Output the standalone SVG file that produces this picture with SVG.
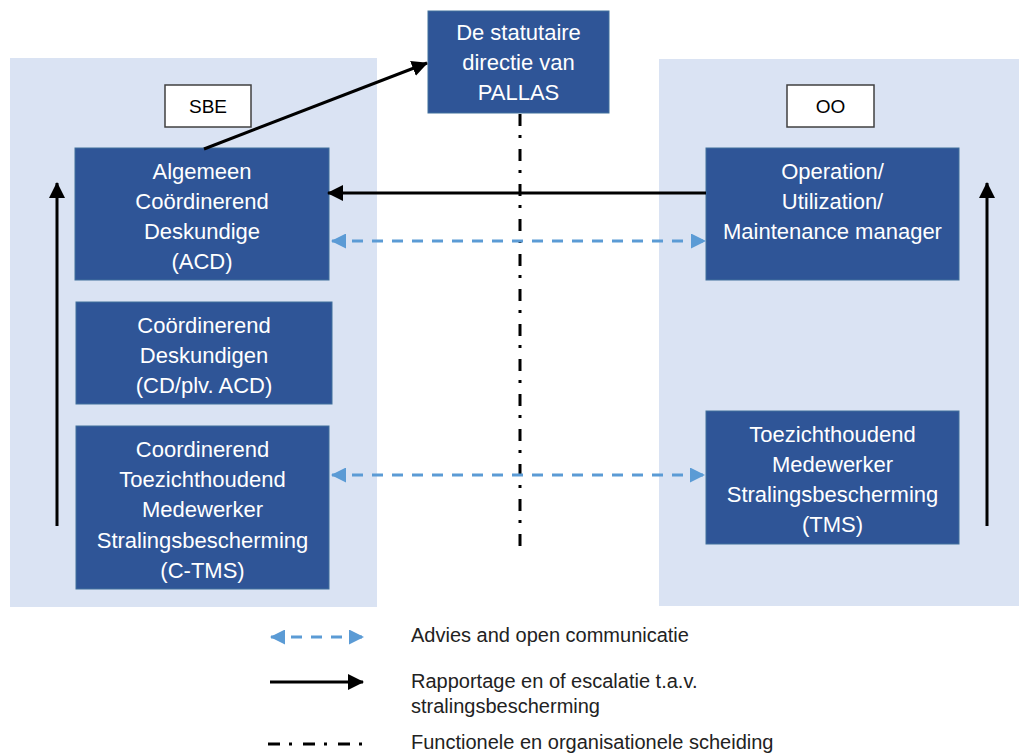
<svg xmlns="http://www.w3.org/2000/svg" width="1019" height="753" viewBox="0 0 1019 753">
<defs>
<style>
.panel{fill:#DAE3F3}
.node{fill:#2F5597;stroke:#41719C;stroke-width:1}
.lbl{fill:#fff;stroke:#404040;stroke-width:1.5}
.t{font-family:"Liberation Sans",Arial,sans-serif;font-size:22px;fill:#fff;text-anchor:middle}
.tb{font-family:"Liberation Sans",Arial,sans-serif;font-size:19px;fill:#000;text-anchor:middle}
.lg{font-family:"Liberation Sans",Arial,sans-serif;font-size:20px;fill:#222}
.solid{stroke:#000;stroke-width:3;fill:none}
.blue{stroke:#5B9BD5;stroke-width:3;fill:none;stroke-dasharray:11 9}
.sep{stroke:#000;stroke-width:3;fill:none;stroke-dasharray:12 9 3 11}
</style>
<marker id="ah" markerUnits="userSpaceOnUse" markerWidth="16" markerHeight="16" refX="15" refY="8" orient="auto">
<path d="M0,0 L16,8 L0,16 Z" fill="#000"/>
</marker>
<marker id="bh" markerUnits="userSpaceOnUse" markerWidth="15" markerHeight="15" refX="14" refY="7.5" orient="auto-start-reverse">
<path d="M0,0 L15,7.5 L0,15 Z" fill="#5B9BD5"/>
</marker>
</defs>
<rect width="1019" height="753" fill="#fff"/>
<g id="panel-sbe"><rect class="panel" x="10" y="58" width="367" height="549"/></g>
<g id="panel-oo"><rect class="panel" x="659" y="59" width="360" height="547"/></g>
<g id="sep-line"><line class="sep" x1="520" y1="114" x2="520" y2="552"/></g>
<g id="node-pallas"><rect class="node" x="428" y="11" width="181" height="102"/>
<text class="t" x="518.5" y="40">De statutaire</text><text class="t" x="518.5" y="70">directie van</text><text class="t" x="518.5" y="100">PALLAS</text></g>
<g id="label-sbe"><rect class="lbl" x="165" y="85" width="86" height="42"/><text class="tb" x="208" y="113">SBE</text></g>
<g id="label-oo"><rect class="lbl" x="787" y="85" width="87" height="42"/><text class="tb" x="830.5" y="113">OO</text></g>
<g id="node-acd"><rect class="node" x="75" y="148" width="254" height="132"/>
<text class="t" x="202" y="179">Algemeen</text><text class="t" x="202" y="209">Coördinerend</text><text class="t" x="202" y="239">Deskundige</text><text class="t" x="202" y="269">(ACD)</text></g>
<g id="node-cd"><rect class="node" x="76" y="302" width="256" height="102"/>
<text class="t" x="204" y="333">Coördinerend</text><text class="t" x="204" y="363">Deskundigen</text><text class="t" x="204" y="393">(CD/plv. ACD)</text></g>
<g id="node-ctms"><rect class="node" x="76" y="426" width="253" height="163"/>
<text class="t" x="202.5" y="457">Coordinerend</text><text class="t" x="202.5" y="487">Toezichthoudend</text><text class="t" x="202.5" y="517">Medewerker</text><text class="t" x="202.5" y="548">Stralingsbescherming</text><text class="t" x="202.5" y="578">(C-TMS)</text></g>
<g id="node-oum"><rect class="node" x="706" y="148" width="253" height="132"/>
<text class="t" x="832.5" y="179">Operation/</text><text class="t" x="832.5" y="209">Utilization/</text><text class="t" x="832.5" y="239">Maintenance manager</text></g>
<g id="node-tms"><rect class="node" x="706" y="411" width="253" height="133"/>
<text class="t" x="832.5" y="442">Toezichthoudend</text><text class="t" x="832.5" y="472">Medewerker</text><text class="t" x="832.5" y="502">Stralingsbescherming</text><text class="t" x="832.5" y="532">(TMS)</text></g>
<g id="connectors">
<line class="solid" x1="204" y1="149" x2="427" y2="63" marker-end="url(#ah)"/>
<line class="solid" x1="706" y1="193" x2="328" y2="193" marker-end="url(#ah)"/>
<line class="blue" x1="332" y1="241" x2="705" y2="241" marker-start="url(#bh)" marker-end="url(#bh)"/>
<line class="blue" x1="332" y1="475" x2="704" y2="475" marker-start="url(#bh)" marker-end="url(#bh)"/>
<line class="solid" x1="57" y1="526" x2="57" y2="183" marker-end="url(#ah)"/>
<line class="solid" x1="987" y1="526" x2="987" y2="183" marker-end="url(#ah)"/>
</g>
<g id="legend">
<line class="blue" x1="271" y1="637" x2="363" y2="637" marker-start="url(#bh)" marker-end="url(#bh)"/>
<line class="solid" x1="270" y1="682" x2="363" y2="682" marker-end="url(#ah)"/>
<line class="sep" x1="268" y1="744" x2="365" y2="744"/>
<text class="lg" x="411" y="642">Advies and open communicatie</text>
<text class="lg" x="411" y="688">Rapportage en of escalatie t.a.v.</text>
<text class="lg" x="411" y="713">stralingsbescherming</text>
<text class="lg" x="411" y="749">Functionele en organisationele scheiding</text>
</g>
</svg>
